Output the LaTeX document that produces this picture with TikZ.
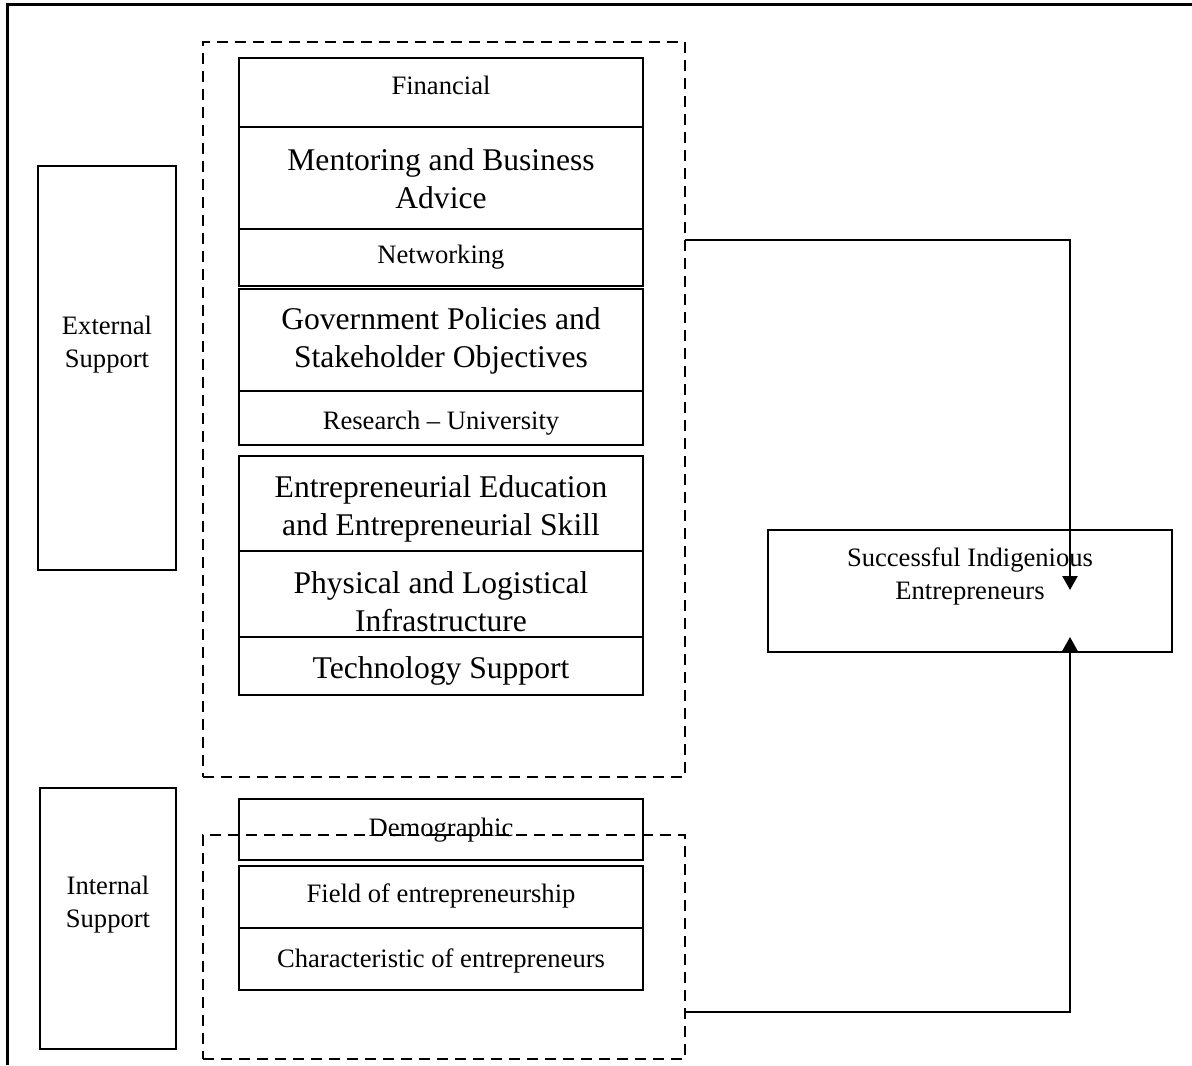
\documentclass[tikz,border=0pt]{standalone}
\usepackage{fontspec}
\setmainfont{Liberation Serif}
\usetikzlibrary{fit,arrows.meta}
\begin{document}
\begin{tikzpicture}[x=0.5pt,y=-0.5pt,
  box/.style={draw, line width=1.35pt, inner sep=0pt},
  dbox/.style={draw, dash pattern=on 5.5pt off 3.5pt, line width=1.25pt, inner sep=0pt},
  sm/.style={font=\fontsize{13.3}{16.5}\selectfont, align=center, inner sep=0pt},
  lg/.style={font=\fontsize{15.8}{19}\selectfont, align=center, inner sep=0pt},
  arr/.style={line width=1.2pt, -{Triangle[width=7.5pt,length=7pt]}}]
\useasboundingbox (0,0) rectangle (1192,1065);
% outer frame
\draw[line width=1.5pt] (7,1065) -- (7,5) -- (1192,5);
% dashed groups
\node[dbox, fit={(203,42)(685,777)}] (ext) {};
\node[dbox, fit={(203,835)(685,1059)}] (int) {};
% left boxes
\node[box, fit={(38,166)(176,570)}] (extL) {};
\node[sm] (extT) at (107,344.5) {External\\Support};
\node[box, fit={(40,788)(176,1049)}] (intL) {};
\node[sm] (intT) at (108,904.5) {Internal\\Support};
% centre boxes
\node[box, fit={(239,58)(643,127)}] (fin) {};
\node[sm] (finT) at (441,85) {Financial};
\node[box, fit={(239,127)(643,229)}] (men) {};
\node[lg] (menT) at (441,179) {Mentoring and Business\\Advice};
\node[box, fit={(239,229)(643,286)}] (net) {};
\node[sm] (netT) at (441,257) {Networking};
\node[box, fit={(239,289)(643,391)}] (gov) {};
\node[lg] (govT) at (441,341) {Government Policies and\\Stakeholder Objectives};
\node[box, fit={(239,391)(643,445)}] (res) {};
\node[sm] (resT) at (441,423) {Research – University};
\node[box, fit={(239,456)(643,551)}] (edu) {};
\node[lg] (eduT) at (441,509) {Entrepreneurial Education\\and Entrepreneurial Skill};
\node[box, fit={(239,551)(643,637)}] (phy) {};
\node[lg] (phyT) at (441,602) {Physical and Logistical\\Infrastructure};
\node[box, fit={(239,637)(643,695)}] (tech) {};
\node[lg] (techT) at (441,671) {Technology Support};
\node[box, fit={(239,799)(643,860)}] (dem) {};
\node[sm] (demT) at (441,830) {Demographic};
\node[box, fit={(239,866)(643,928)}] (fld) {};
\node[sm] (fldT) at (441,896) {Field of entrepreneurship};
\node[box, fit={(239,928)(643,990)}] (chr) {};
\node[sm] (chrT) at (441,961) {Characteristic of entrepreneurs};
% outcome
\node[box, fit={(768,530)(1172,652)}] (succ) {};
\node[sm] (succT) at (970,576) {Successful Indigenious\\Entrepreneurs};
% connectors
\coordinate (a1) at (685,240);
\coordinate (t1) at (1070,590);
\coordinate (a2) at (685,1012);
\coordinate (t2) at (1070,637);
\draw[arr] (a1) -| (t1);
\draw[arr] (a2) -| (t2);
\end{tikzpicture}
\end{document}
